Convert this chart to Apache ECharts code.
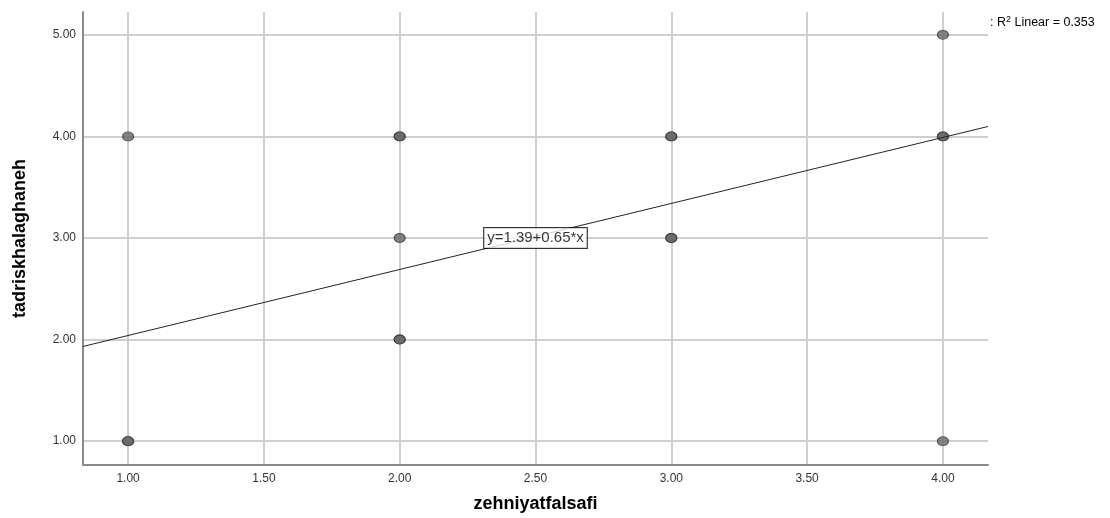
<!DOCTYPE html>
<html>
<head>
    <meta charset="UTF-8">
    <script src="https://cdn.jsdelivr.net/npm/echarts@6/dist/echarts.min.js"></script>
</head>
<body style="margin:0;background:#fff;">
<div id="main" style="width:1110px;height:518px;"></div>
<script type="text/javascript">
    // observed points (repeats = darker overlapping markers)
    var xVals = [1, 1, 1, 2, 2, 2, 2, 2, 3, 3, 3, 3, 4, 4, 4, 4];
    var yVals = [4, 1, 1, 4, 4, 3, 2, 2, 4, 4, 3, 3, 5, 4, 4, 1];
    var xTicks = [1, 1.5, 2, 2.5, 3, 3.5, 4];
    var yTicks = [1, 2, 3, 4, 5];
    var xRange = [0.834, 4.166];
    var yRange = [0.765, 5.225];
    var fit = {intercept: 1.39, slope: 0.65, r2: 0.353};

    var points = [];
    for (var i = 0; i < xVals.length; i++) {
        points.push([xVals[i], yVals[i]]);
    }
    var fitLine = [];
    for (var j = 0; j < xRange.length; j++) {
        fitLine.push([xRange[j], fit.intercept + fit.slope * xRange[j]]);
    }

    var myChart = echarts.init(document.getElementById('main'));
    var option = {
        animation: false,
        textStyle: {fontFamily: 'Liberation Sans, Arial, sans-serif'},
        grid: {left: 83, right: 122, top: 12, bottom: 51},
        xAxis: {
            type: 'value',
            min: xRange[0],
            max: xRange[1],
            name: 'zehniyatfalsafi',
            nameLocation: 'middle',
            nameGap: 30,
            nameTextStyle: {fontSize: 18, fontWeight: 'bold', color: '#000', letterSpacing: 1.4},
            axisLine: {show: true, lineStyle: {color: '#8c8c8c', width: 2}},
            axisTick: {show: false, customValues: xTicks},
            axisLabel: {
                customValues: xTicks,
                color: '#333',
                fontSize: 12,
                letterSpacing: 0.5,
                margin: 8,
                formatter: function (v) { return v.toFixed(2); }
            },
            splitLine: {show: true, lineStyle: {color: '#cfcfcf', width: 2}}
        },
        yAxis: {
            type: 'value',
            min: yRange[0],
            max: yRange[1],
            name: 'tadriskhalaghaneh',
            nameLocation: 'middle',
            nameGap: 54,
            nameTextStyle: {fontSize: 18, fontWeight: 'bold', color: '#000', letterSpacing: 0.4},
            axisLine: {show: true, lineStyle: {color: '#8c8c8c', width: 2}},
            axisTick: {show: false, customValues: yTicks},
            axisLabel: {
                customValues: yTicks,
                color: '#333',
                fontSize: 12,
                letterSpacing: 0.5,
                margin: 7,
                formatter: function (v) { return v.toFixed(2); }
            },
            splitLine: {show: true, lineStyle: {color: '#cfcfcf', width: 2}}
        },
        series: [
            {
                type: 'line',
                data: fitLine,
                symbol: 'none',
                lineStyle: {color: '#222', width: 1}
            },
            {
                type: 'scatter',
                data: points,
                symbol: 'circle',
                symbolSize: [11, 9],
                itemStyle: {color: '#666', borderColor: '#333', borderWidth: 1}
            },
            {
                type: 'scatter',
                data: [[2.5, 3]],
                symbolSize: 0,
                label: {
                    show: true,
                    position: 'inside',
                    formatter: 'y=' + fit.intercept + '+' + fit.slope + '*x',
                    color: '#000',
                    fontSize: 15,
                    backgroundColor: '#fff',
                    borderColor: '#000',
                    borderWidth: 1,
                    padding: [3, 3, 2, 3]
                },
                z: 5
            }
        ],
        graphic: [{
            type: 'text',
            left: 990,
            top: 15,
            style: {
                text: ': R{sup|2} Linear = ' + fit.r2,
                fontSize: 12.5,
                fill: '#000',
                fontFamily: 'Liberation Sans, Arial, sans-serif',
                rich: {sup: {fontSize: 9, verticalAlign: 'top', padding: [0, 0, 6, 0]}}
            }
        }]
    };
    myChart.setOption(option);
</script>
</body>
</html>
